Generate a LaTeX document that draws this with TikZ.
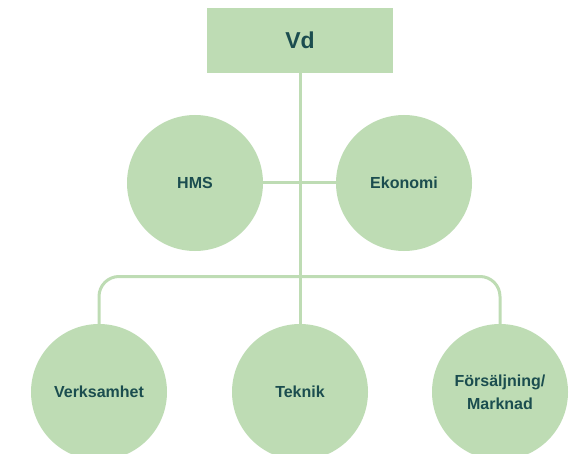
\documentclass[tikz,border=0pt]{standalone}
\usepackage{fontspec}
\setmainfont{Liberation Sans}
\usepackage{xcolor}
\usepackage{tikz}
\definecolor{leaf}{HTML}{BEDCB4}
\definecolor{ink}{HTML}{1B4D4F}

\begin{document}
\begin{tikzpicture}[x=1pt,y=-1pt,
  unit/.style={circle,fill=leaf,minimum size=136pt,inner sep=0pt,text=ink,align=center,
    font=\bfseries\fontsize{16}{23}\selectfont},
  link/.style={leaf,line width=3pt}]
\useasboundingbox (0,0) rectangle (572,454);
\node[rectangle,fill=leaf,minimum width=186pt,minimum height=65pt,text=ink,
  font=\bfseries\fontsize{23}{27}\selectfont] (vd) at (300,40.5) {Vd};
\node[unit] (hms) at (195,183) {HMS};
\node[unit] (ekonomi) at (404,183) {Ekonomi};
\node[unit] (verk) at (99,392) {Verksamhet};
\node[unit] (teknik) at (300,392) {Teknik};
\node[unit] (fors) at (500,392) {Försäljning/\\Marknad};
\coordinate (branch) at (300,276.5);
% lines between the boxes
\draw[link] (vd) -- (teknik);
\draw[link] (hms) -- (ekonomi);
\draw[link,rounded corners=20pt] (verk.north) -- (verk.north |- branch) -- (fors.north |- branch) -- (fors.north);
\end{tikzpicture}
\end{document}
